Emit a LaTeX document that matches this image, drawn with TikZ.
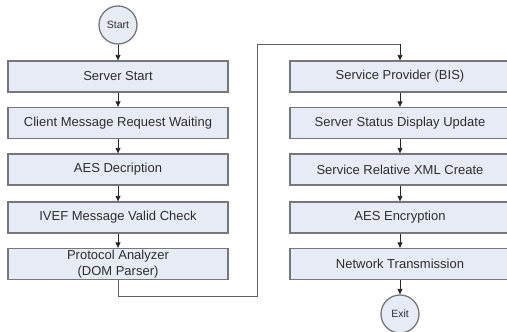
\documentclass[tikz,border=0pt]{standalone}
\usepackage{fontspec}
\setmainfont{Liberation Sans}
\usetikzlibrary{arrows.meta}
\definecolor{boxfill}{HTML}{E7EBF5}
\definecolor{boxline}{HTML}{777777}
\definecolor{txt}{HTML}{2E2E2E}
\tikzset{
  stepbox/.style={draw=boxline, line width=1.3pt, fill=boxfill, minimum width=220pt, minimum height=31pt, inner sep=0pt, align=center, font=\fontsize{13}{15.5}\selectfont, text=txt},
  term/.style={circle, draw=boxline, line width=1.3pt, fill=boxfill, minimum size=38pt, inner sep=0pt, font=\fontsize{10.5}{12}\selectfont, text=txt},
  flow/.style={draw=black!85, line width=0.8pt, -{Triangle[length=5.5pt,width=5pt]}},
  link/.style={draw=boxline!80!black, line width=1pt}
}
\begin{document}
\begin{tikzpicture}[x=1pt,y=-1pt]
\useasboundingbox (0,0) rectangle (507,332);
\node[term] (start) at (118,25) {Start};
\node[stepbox] (s1) at (118,76.5) {Server Start};
\node[stepbox] (s2) at (118,123) {Client Message Request Waiting};
\node[stepbox] (s3) at (118,169.5) {AES Decription};
\node[stepbox] (s4) at (118,217.5) {IVEF Message Valid Check};
\node[stepbox] (s5) at (118,264) {Protocol Analyzer\\(DOM Parser)};
\node[stepbox] (r1) at (400,76.5) {Service Provider (BIS)};
\node[stepbox] (r2) at (400,123) {Server Status Display Update};
\node[stepbox] (r3) at (400,169.5) {Service Relative XML Create};
\node[stepbox] (r4) at (400,217.5) {AES Encryption};
\node[stepbox] (r5) at (400,264) {Network Transmission};
\node[term] (exit) at (400,314) {Exit};
\coordinate (c1) at (118,296);
\coordinate (c2) at (257,296);
\coordinate (c3) at (257,44);
\coordinate (c4) at (400,44);
\draw[flow] (start) -- (s1);
\draw[flow] (s1) -- (s2);
\draw[flow] (s2) -- (s3);
\draw[flow] (s3) -- (s4);
\draw[flow] (s4) -- (s5);
\draw[link] (s5.south) -- (c1) -- (c2) -- (c3) -- (c4);
\draw[flow] (c4) -- (r1);
\draw[flow] (r1) -- (r2);
\draw[flow] (r2) -- (r3);
\draw[flow] (r3) -- (r4);
\draw[flow] (r4) -- (r5);
\draw[flow] (r5) -- (exit);
\end{tikzpicture}
\end{document}
